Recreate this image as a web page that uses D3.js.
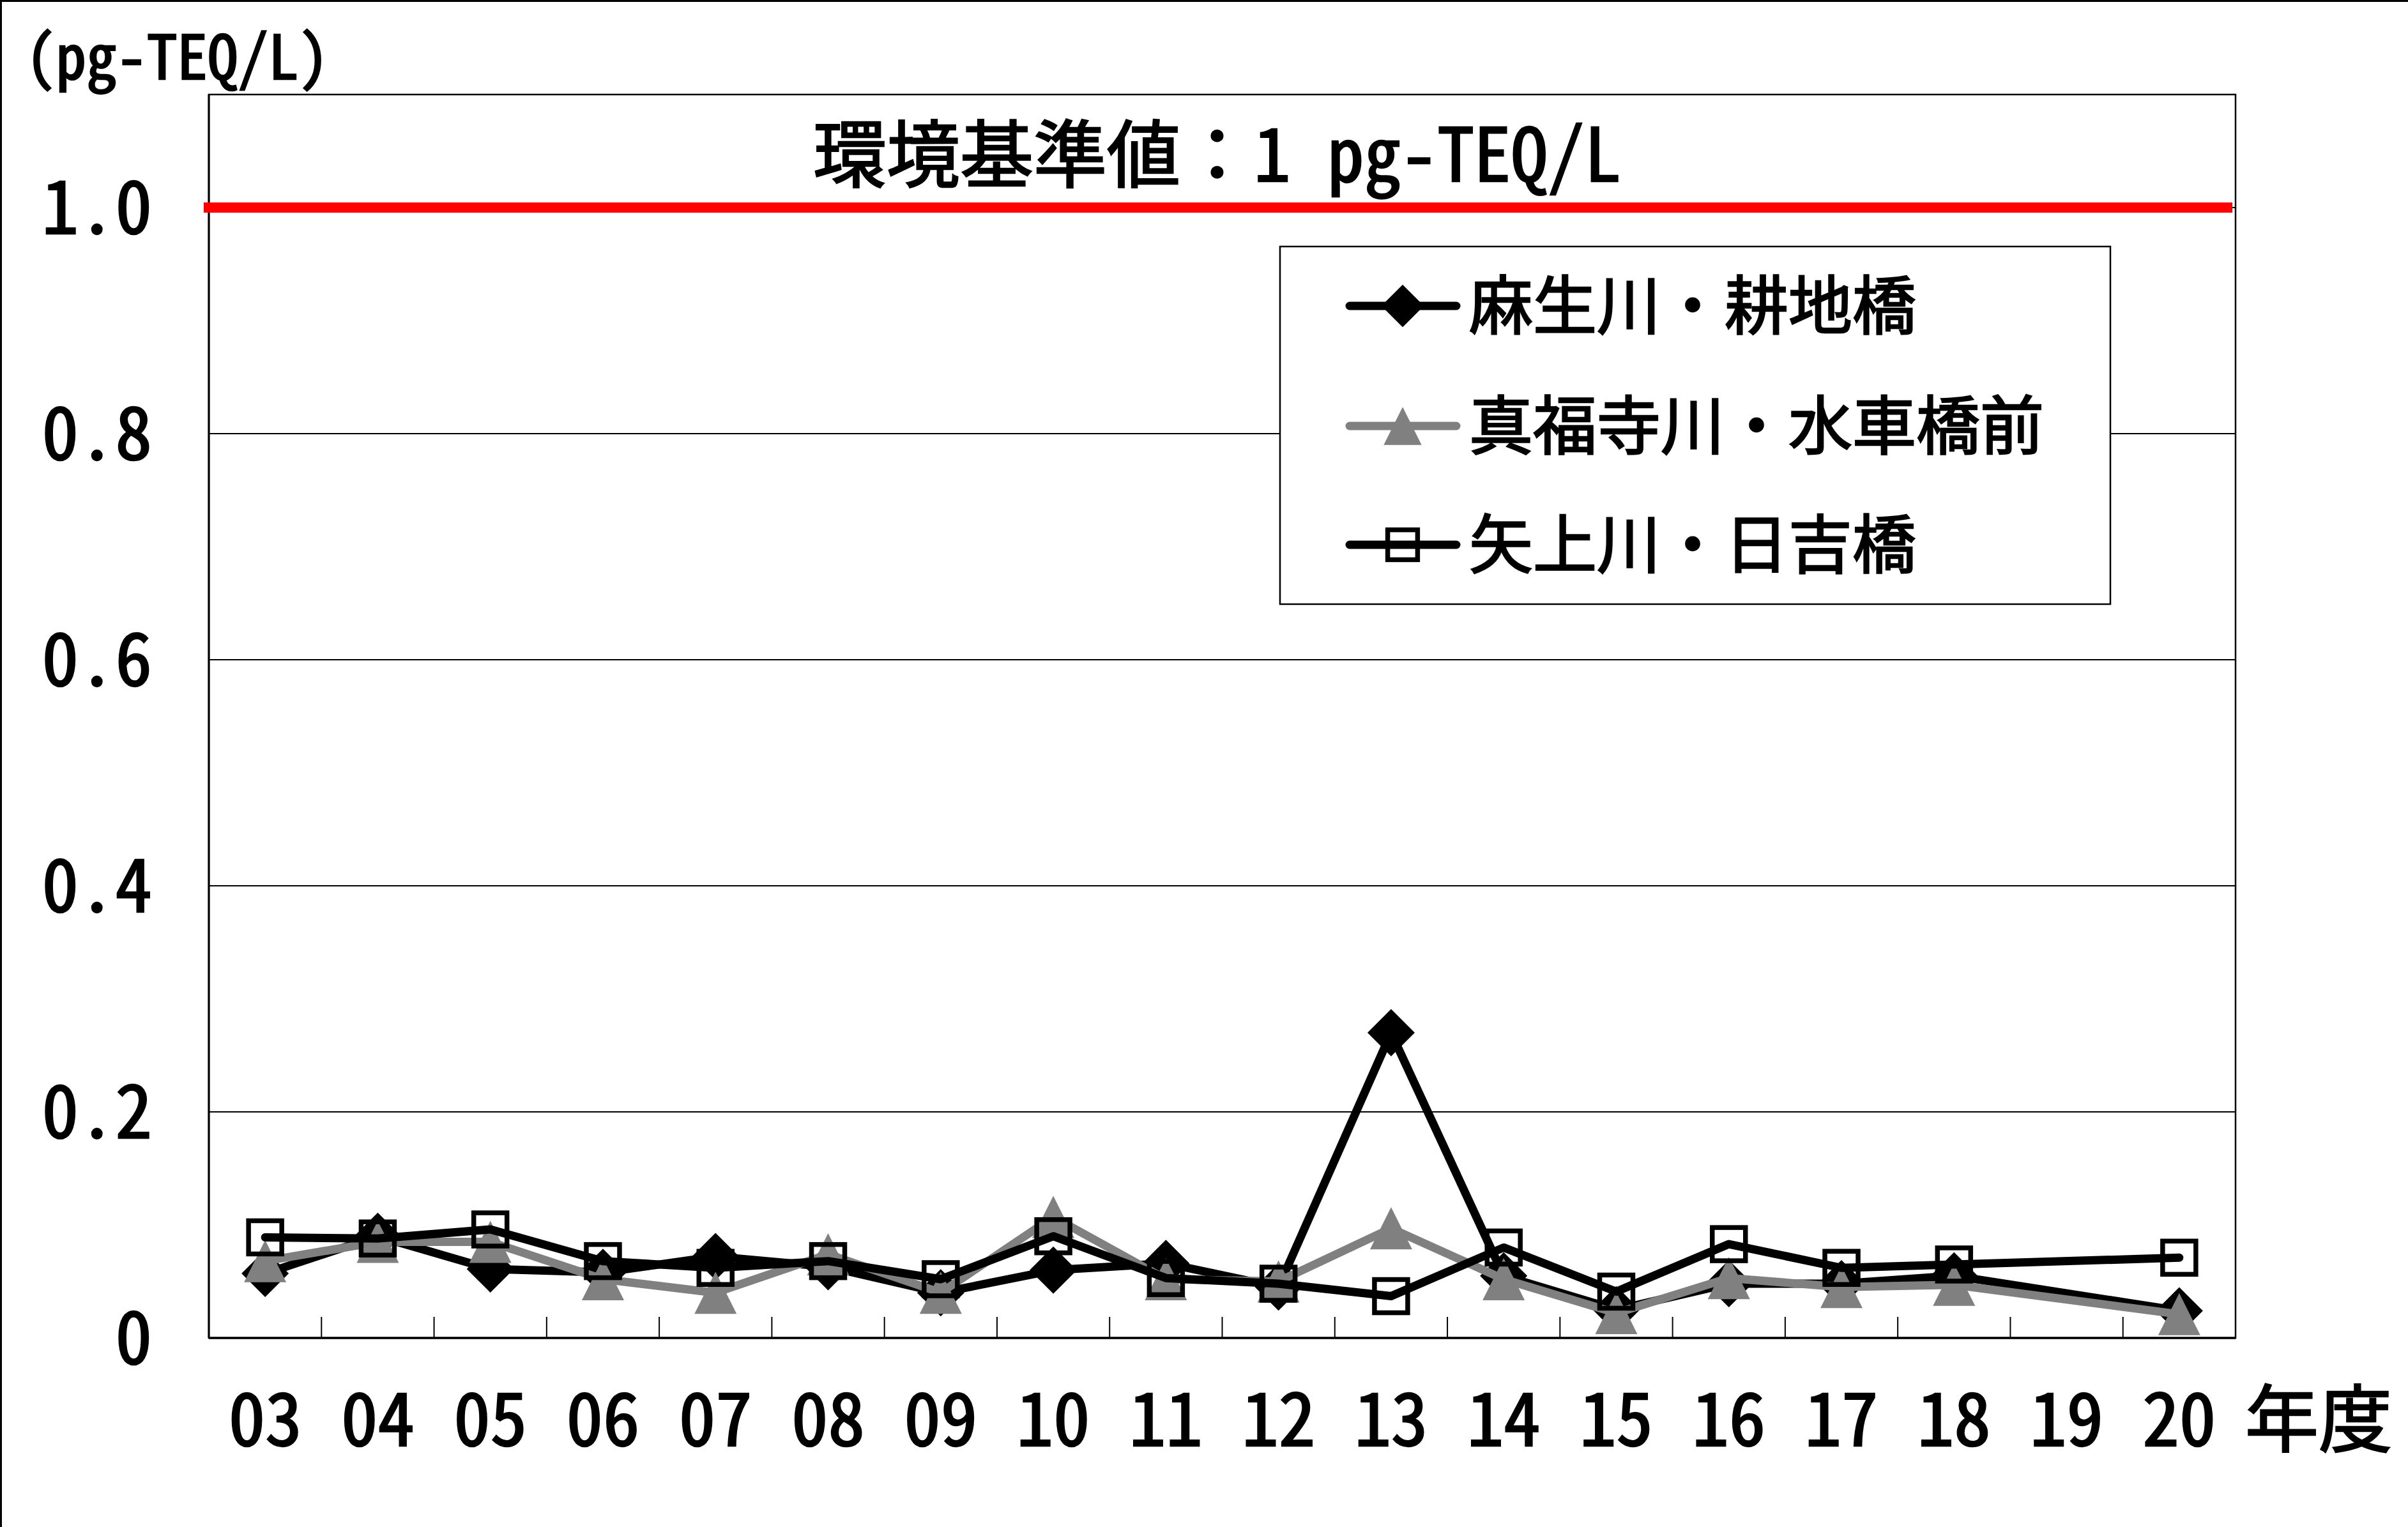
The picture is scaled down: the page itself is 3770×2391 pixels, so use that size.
<!DOCTYPE html>
<html><head><meta charset="utf-8">
<script src="https://cdn.jsdelivr.net/npm/d3@7"></script>
<style>html,body{margin:0;padding:0;background:#fff;} svg text{stroke:#000;stroke-width:2.5px;paint-order:stroke;}</style>
</head><body>
<script>
// ---- data ----
const years = ["03","04","05","06","07","08","09","10","11","12","13","14","15","16","17","18","19","20"];
const seriesNames = ["麻生川・耕地橋", "真福寺川・水車橋前", "矢上川・日吉橋"];
const asaoValues   = [0.057,0.090,0.061,0.058,0.072,0.063,0.040,0.060,0.066,0.045,0.270,0.055,0.025,0.048,0.048,0.055,null,0.024];
const shinpukuji   = [0.068,0.085,0.085,0.052,0.040,0.074,0.040,0.107,0.052,0.050,0.097,0.052,0.022,0.053,0.045,0.047,null,0.021];
const yagami       = [0.089,0.088,0.096,0.068,0.062,0.068,0.052,0.090,0.053,0.048,0.037,0.080,0.041,0.083,0.062,0.065,null,0.071];
const yTicks = [0, 0.2, 0.4, 0.6, 0.8, 1.0];
const yTickLabels = ["0", "0.2", "0.4", "0.6", "0.8", "1.0"];
const standardValue = 1.0;
const titleText = "環境基準値：1 pg-TEQ/L";
const unitText = "(pg-TEQ/L)";
const xUnitText = "年度";

// ---- layout ----
const W = 3770, H = 2391;
const L = 327, R = 3500, T = 148, B = 2095;
const FONT = "'Noto Sans Mono CJK JP','Noto Sans CJK JP','Noto Sans',sans-serif";

const svg = d3.select("body").append("svg").attr("width", W).attr("height", H)
  .style("display","block").style("font-family", FONT);
svg.append("rect").attr("width", W).attr("height", H).attr("fill", "#fff");
// outer border (top & left visible)
svg.append("line").attr("x1",0).attr("x2",W).attr("y1",1.5).attr("y2",1.5).attr("stroke","#000").attr("stroke-width",3);
svg.append("line").attr("x1",1.5).attr("x2",1.5).attr("y1",0).attr("y2",H).attr("stroke","#000").attr("stroke-width",3);

const x = d3.scaleBand().domain(years).range([L, R]).padding(0);
const y = d3.scaleLinear().domain([0, 1.1]).range([B, T]);
const cx = d => x(d) + x.bandwidth()/2;

// plot frame
svg.append("rect").attr("x", L).attr("y", T).attr("width", R-L).attr("height", B-T)
  .attr("fill","#fff").attr("stroke","#000").attr("stroke-width",2.5);

// gridlines
svg.append("g").selectAll("line").data(yTicks.filter(v => v > 0)).join("line")
  .attr("x1", L).attr("x2", R).attr("y1", d => y(d)).attr("y2", d => y(d))
  .attr("stroke","#000").attr("stroke-width",2);

// x axis (ticks between categories, pointing inward)
const xb = years.map(d => x(d)).concat([R]);
svg.append("g").selectAll("line").data(xb).join("line")
  .attr("x1", d => d).attr("x2", d => d).attr("y1", B).attr("y2", B - 33)
  .attr("stroke","#000").attr("stroke-width",2);
svg.append("line").attr("x1",L).attr("x2",R).attr("y1",B).attr("y2",B).attr("stroke","#000").attr("stroke-width",3.5);
svg.append("line").attr("x1",L).attr("x2",L).attr("y1",T).attr("y2",B).attr("stroke","#000").attr("stroke-width",3);

// x labels
svg.append("g").selectAll("text").data(years).join("text")
  .attr("x", d => cx(d)).attr("y", 2264).attr("text-anchor","middle")
  .attr("font-size",115).attr("fill","#000").text(d => d);
svg.append("text").attr("x", 3515).attr("y", 2264).attr("font-size",115).attr("fill","#000").text(xUnitText);

// y labels
svg.append("g").selectAll("text").data(yTicks).join("text")
  .attr("x", 238).attr("y", d => y(d) + 41).attr("text-anchor","end")
  .attr("font-size",115).attr("fill","#000").text((d,i) => yTickLabels[i]);
svg.append("text").attr("x", 40).attr("y", 124).attr("font-size",95).attr("fill","#000").text(unitText);

// standard line
svg.append("line").attr("x1", 319).attr("x2", 3495).attr("y1", y(standardValue)).attr("y2", y(standardValue))
  .attr("stroke","#ff0000").attr("stroke-width",16);
svg.append("text").attr("x", (L+R)/2 - 8).attr("y", 284).attr("text-anchor","middle")
  .attr("font-size",115).attr("fill","#000").text(titleText);

// markers
function drawMarker(g, type, px, py, color, s) {
  s = s || 1;
  if (type === "diamond") {
    const h = 37*s;
    g.append("path").attr("d", `M${px},${py-h}L${px+h},${py}L${px},${py+h}L${px-h},${py}Z`).attr("fill", color);
  } else if (type === "triangle") {
    const h = 33*s;
    g.append("path").attr("d", `M${px},${py-h}L${px+h},${py+h}L${px-h},${py+h}Z`).attr("fill", color);
  } else {
    const h = 26*s;
    g.append("rect").attr("x", px-h).attr("y", py-h).attr("width", 2*h).attr("height", 2*h)
      .attr("fill","none").attr("stroke", color).attr("stroke-width", 7.5);
  }
}

const series = [
  {name: seriesNames[0], values: asaoValues, color: "#000000", marker: "diamond"},
  {name: seriesNames[1], values: shinpukuji, color: "#808080", marker: "triangle"},
  {name: seriesNames[2], values: yagami, color: "#000000", marker: "square"}
];
const line = d3.line().x(d => cx(d.year)).y(d => y(d.v));
series.forEach(s => {
  const pts = years.map((yr,i) => ({year: yr, v: s.values[i]})).filter(d => d.v !== null);
  const g = svg.append("g");
  g.append("path").datum(pts).attr("d", line).attr("fill","none").attr("stroke", s.color)
    .attr("stroke-width", 13).attr("stroke-linejoin","round").attr("stroke-linecap","round");
  pts.forEach(p => drawMarker(g, s.marker, cx(p.year), y(p.v), s.color));
});

// legend
const lg = svg.append("g");
lg.append("rect").attr("x", 2004).attr("y", 386).attr("width", 1300).attr("height", 560)
  .attr("fill","#fff").attr("stroke","#000").attr("stroke-width",2.5);
const rowY = [479, 667, 853];
series.forEach((s,i) => {
  const ry = rowY[i];
  lg.append("line").attr("x1", 2113).attr("x2", 2280).attr("y1", ry).attr("y2", ry)
    .attr("stroke", s.color).attr("stroke-width", 13).attr("stroke-linecap","round");
  drawMarker(lg, s.marker, 2196, ry, s.color, 0.9);
  lg.append("text").attr("x", 2300).attr("y", ry + 36).attr("font-size",100).attr("fill","#000").text(s.name);
});
</script>
</body></html>
